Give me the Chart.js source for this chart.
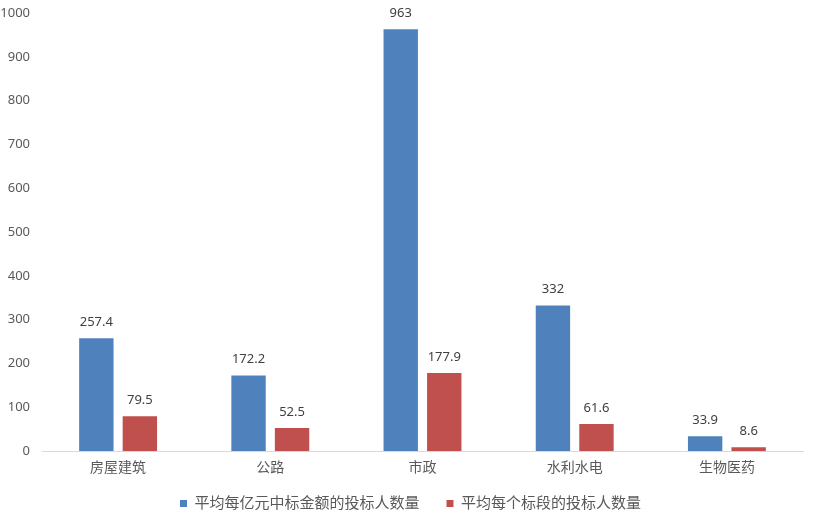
<!DOCTYPE html>
<html>
<head>
<meta charset="utf-8">
<script src="https://cdn.jsdelivr.net/npm/chart.js@4.4.1/dist/chart.umd.min.js"></script>
<style>
  html, body { margin: 0; padding: 0; background: #fff; }
  #wrap { width: 813px; height: 522px; }
</style>
</head>
<body>
<div id="wrap"><canvas id="barsChart"></canvas></div>
<script>
var categories = ["房屋建筑", "公路", "市政", "水利水电", "生物医药"];
var perBillion = [257.4, 172.2, 963, 332, 33.9];
var perSection = [79.5, 52.5, 177.9, 61.6, 8.6];
var seriesNames = ["平均每亿元中标金额的投标人数量", "平均每个标段的投标人数量"];
var yTicks = [0, 100, 200, 300, 400, 500, 600, 700, 800, 900, 1000];

var fontFamily = "'Noto Sans', 'Noto Sans CJK SC', sans-serif";

// value labels above every bar
var barLabels = {
  id: 'barLabels',
  afterDatasetsDraw: function(chart) {
    var ctx = chart.ctx;
    ctx.save();
    ctx.font = "13px " + fontFamily;
    ctx.fillStyle = "#404040";
    ctx.textAlign = "center";
    ctx.textBaseline = "middle";
    chart.data.datasets.forEach(function(ds, i) {
      chart.getDatasetMeta(i).data.forEach(function(bar, j) {
        ctx.fillText(String(ds.data[j]), bar.x, bar.y - 16);
      });
    });
    ctx.restore();
  }
};

// legend padding is large for the gap between items, pull it back up a little
var legendShift = {
  id: 'legendShift',
  afterLayout: function(chart) {
    chart.legend.top -= 16;
    chart.legend.bottom -= 16;
    chart.legend.left += 9;
    chart.legend.right += 9;
  }
};

var chart = new Chart('barsChart', {
  type: 'bar',
  data: {
    labels: categories,
    datasets: [
      { label: seriesNames[0], data: perBillion, backgroundColor: "#4F81BD",
        categoryPercentage: 0.572, barPercentage: 0.79 },
      { label: seriesNames[1], data: perSection, backgroundColor: "#C0504D",
        categoryPercentage: 0.572, barPercentage: 0.79 }
    ]
  },
  options: {
    responsive: true,
    maintainAspectRatio: false,
    animation: false,
    layout: { padding: { top: 13, right: 10, left: 0, bottom: -15 } },
    plugins: {
      legend: {
        position: 'bottom',
        labels: {
          boxWidth: 7, boxHeight: 7, padding: 27,
          color: "#595959",
          font: { family: fontFamily, size: 15 }
        }
      },
      tooltip: { enabled: false }
    },
    scales: {
      x: {
        grid: { display: false, drawTicks: false },
        border: { color: "#D9D9D9", width: 1 },
        ticks: { color: "#595959", padding: 9, font: { family: fontFamily, size: 14 } },
        afterFit: function(s) { s.height = 34; }
      },
      y: {
        min: 0, max: 1000,
        afterBuildTicks: function(s) { s.ticks = yTicks.map(function(v) { return { value: v }; }); },
        grid: { display: false, drawTicks: true, tickLength: 8 },
        border: { display: false },
        ticks: {
          color: "#595959", padding: 4, font: { family: fontFamily, size: 13 },
          callback: function(v) { return String(v); }
        },
        afterFit: function(s) { s.width = 42; }
      }
    }
  },
  plugins: [barLabels, legendShift]
});
</script>
</body>
</html>
